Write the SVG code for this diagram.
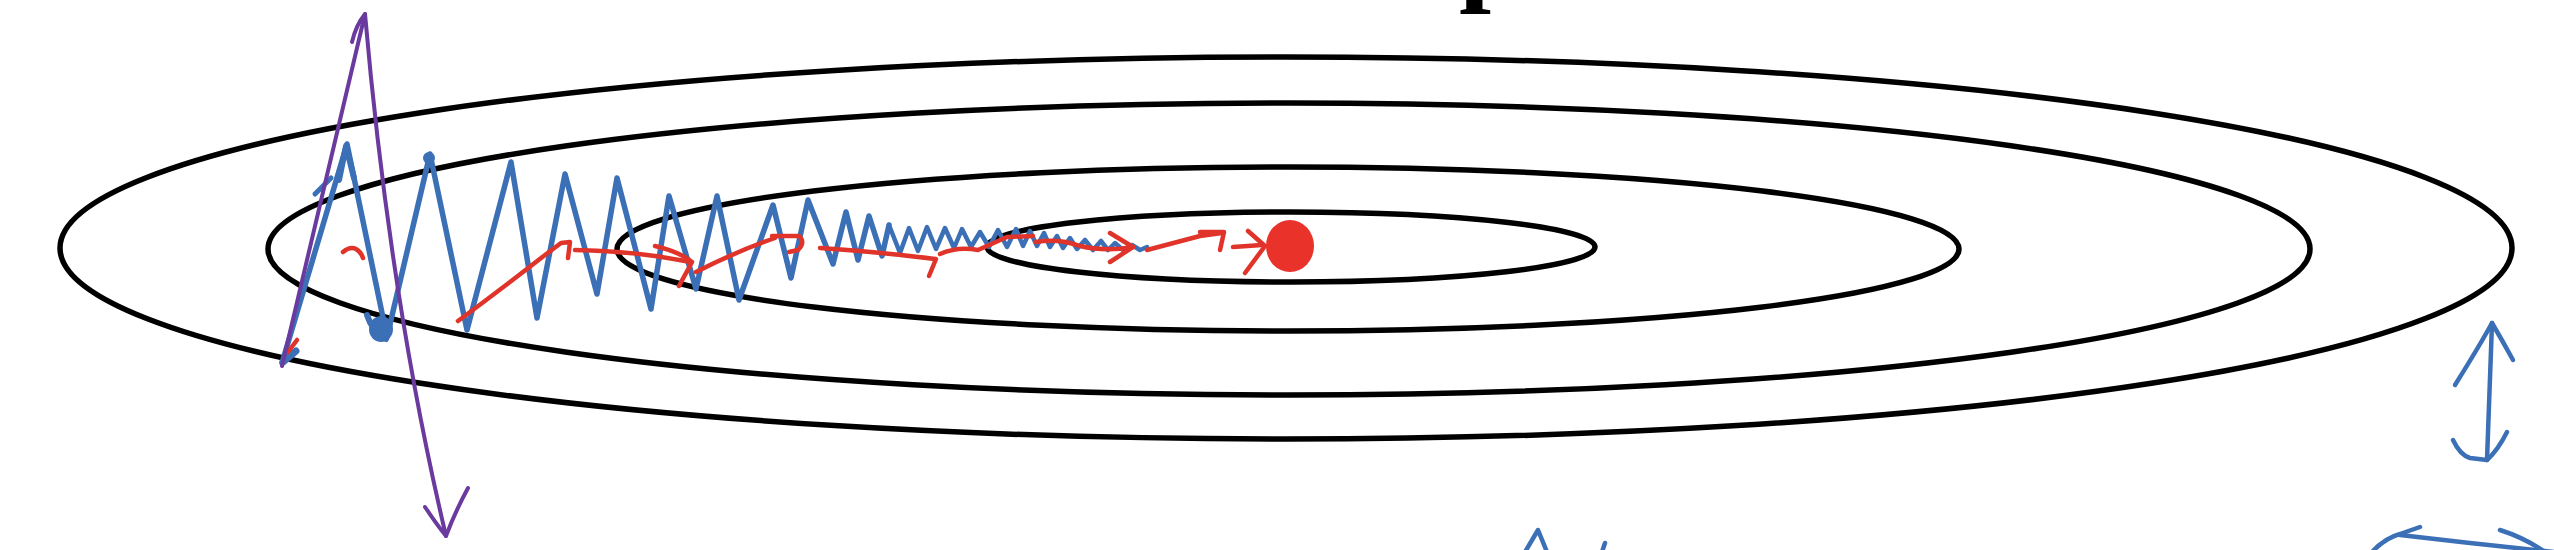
<svg xmlns="http://www.w3.org/2000/svg" width="2554" height="550" viewBox="0 0 2554 550">
  <style>
    .contour { fill: none; stroke: #000; stroke-width: 5.5; }
    .blue { fill: none; stroke: #3b6fb6; stroke-linecap: round; stroke-linejoin: round; }
    .red { fill: none; stroke: #e0342a; stroke-width: 4.5; stroke-linecap: round; stroke-linejoin: round; }
    .purple { fill: none; stroke: #6a3a9e; stroke-width: 4; stroke-linecap: round; stroke-linejoin: round; }
    .title { font-family: "Liberation Serif", "Times New Roman", serif; font-weight: bold; fill: #000; }
  </style>
  <rect x="0" y="0" width="2554" height="550" fill="#ffffff"/>

  <!-- cut-off title letter at top edge (cropped in the reference as well) -->
  <text class="title" x="1459" y="-10" font-size="115">p</text>

  <g id="contours">
    <ellipse class="contour" cx="1286" cy="248" rx="1226" ry="191"/>
    <ellipse class="contour" cx="1289" cy="249" rx="1021" ry="146"/>
    <ellipse class="contour" cx="1288" cy="249" rx="671" ry="82"/>
    <ellipse class="contour" cx="1291" cy="247" rx="304" ry="35"/>
  </g>

  <g id="blue-path">
    <path class="blue" stroke-width="5.5" d="M282,363 L347,144 L387,337 L430,154 L467,330 L511,162 L537,318 L565,174 L597,294 L617,178 L651,309 L669,196 L696,289 L717,196 L739,300 L773,205 L791,278 L808,200 L833,264 L846,212 L858,260 L869,216 L882,256 L889,225"/>
    <path class="blue" stroke-width="4.5" d="M889,225 L900,253 L909,228 L918,251 L927,227 L936,249 L945,228 L954,248 L962,229 L971,247 L980,232 L989,247 L998,230 L1007,247 L1016,229 L1023,246 L1030,231 L1037,246 L1044,233 L1050,247 L1057,236 L1063,248 L1070,238 L1077,249 L1085,240 L1093,250 L1101,241 L1108,250 L1115,243 L1123,250 L1132,245 L1140,250 L1147,247"/>
    <path class="blue" stroke-width="6" d="M339,180 L346,146 L354,178"/>
    <path class="blue" stroke-width="5" d="M315,194 L331,178"/>
    <ellipse cx="381" cy="329" rx="12" ry="13" fill="#3b6fb6"/>
    <path class="blue" stroke-width="6" d="M367,315 Q372,331 386,339"/>
    <circle cx="429" cy="158" r="6" fill="#3b6fb6"/>
    <path class="blue" stroke-width="7" d="M283,362 L296,351"/>
  </g>

  <g id="red-path">
    <path class="red" d="M288,352 L297,340" stroke-width="6"/>
    <path class="red" d="M343,252 Q350,246 356,249 Q361,252 363,258"/>
    <path class="red" d="M458,321 Q500,290 545,255 L561,243 L570,242 L568,258"/>
    <path class="red" d="M575,250 Q620,251 655,256 Q675,259 690,262"/>
    <path class="red" d="M655,246 Q680,252 692,262 L679,286"/>
    <path class="red" d="M696,272 Q735,252 775,238"/>
    <path class="red" d="M772,236 L799,236 Q806,242 798,250 L789,252"/>
    <path class="red" d="M820,248 Q880,252 935,259"/>
    <path class="red" d="M936,259 L929,276"/>
    <path class="red" d="M940,254 Q958,246 978,250 L1007,237 L1033,236"/>
    <path class="red" d="M1036,242 Q1058,238 1080,246 Q1105,252 1133,247"/>
    <path class="red" d="M1110,233 L1133,247 L1110,262"/>
    <path class="red" d="M1147,250 L1200,236 L1222,233"/>
    <path class="red" d="M1200,232 L1224,232 L1220,250"/>
    <path class="red" d="M1233,247 L1262,245"/>
    <path class="red" d="M1248,231 L1265,246 L1245,273"/>
  </g>

  <g id="minimum">
    <ellipse cx="1290" cy="246" rx="24" ry="26" fill="#e8322a"/>
  </g>

  <g id="purple-arrow">
    <path class="purple" d="M282,366 L365,14 Q390,300 446,536"/>
    <path class="purple" d="M352,42 Q356,25 365,14"/>
    <path class="purple" d="M425,507 Q437,525 446,536 Q455,512 468,488"/>
  </g>

  <g id="blue-double-arrow">
    <path class="blue" stroke-width="4.5" d="M2492,323 L2487,460"/>
    <path class="blue" stroke-width="4.5" d="M2455,385 Q2480,345 2492,323 Q2502,340 2513,360"/>
    <path class="blue" stroke-width="4.5" d="M2453,440 Q2460,455 2470,458 L2487,460 Q2498,450 2507,432"/>
  </g>

  <g id="bottom-fragments">
    <path class="blue" stroke-width="4.5" d="M2372,552 Q2385,538 2400,534 L2420,527"/>
    <path class="blue" stroke-width="4.5" d="M2400,535 L2470,543 L2554,552"/>
    <path class="blue" stroke-width="4.5" d="M2500,530 Q2525,538 2545,552"/>
    <path class="blue" stroke-width="4.5" d="M1525,552 L1538,530 L1547,552"/>
    <path class="blue" stroke-width="4.5" d="M1605,543 L1602,552"/>
  </g>
</svg>
